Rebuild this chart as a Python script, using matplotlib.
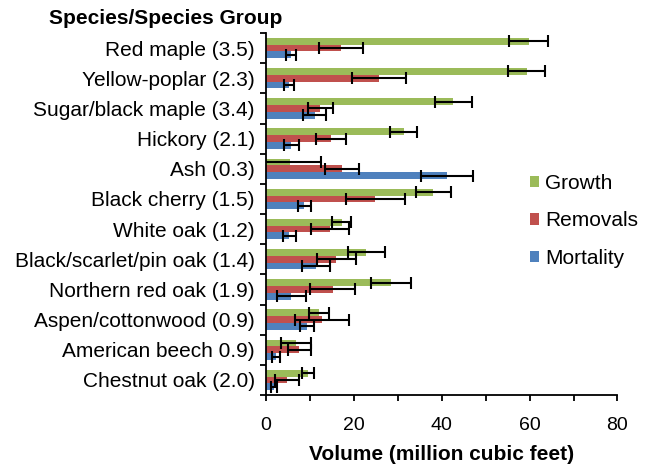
import matplotlib
matplotlib.use("Agg")
import matplotlib.pyplot as plt
import numpy as np

categories = ["Red maple (3.5)", "Yellow-poplar (2.3)", "Sugar/black maple (3.4)",
              "Hickory (2.1)", "Ash (0.3)", "Black cherry (1.5)", "White oak (1.2)",
              "Black/scarlet/pin oak (1.4)", "Northern red oak (1.9)",
              "Aspen/cottonwood (0.9)", "American beech 0.9)", "Chestnut oak (2.0)"]

growth = [59.8, 59.3, 42.6, 31.3, 5.5, 38.1, 17.2, 22.8, 28.5, 12.0, 6.8, 9.6]
growth_err = [4.4, 4.3, 4.2, 3.1, 7.0, 3.9, 2.2, 4.2, 4.6, 2.3, 3.4, 1.4]
removals = [17.1, 25.7, 12.4, 14.8, 17.3, 24.9, 14.6, 16.0, 15.2, 12.7, 7.6, 4.8]
removals_err = [5.0, 6.1, 2.8, 3.5, 3.8, 6.7, 4.4, 4.5, 5.1, 6.2, 2.6, 2.7]
mortality = [5.7, 5.2, 11.1, 5.8, 41.2, 8.7, 5.3, 11.4, 5.8, 9.3, 2.3, 1.9]
mortality_err = [1.2, 1.2, 2.6, 1.6, 5.9, 1.5, 1.45, 3.1, 3.35, 1.6, 1.0, 0.7]

series = [("Growth", growth, growth_err, "#9BBB59"),
          ("Removals", removals, removals_err, "#C0504D"),
          ("Mortality", mortality, mortality_err, "#4F81BD")]

plt.rcParams['font.family'] = ['Liberation Sans', 'DejaVu Sans']

W, H = 653, 468
fig = plt.figure(figsize=(W / 100, H / 100), dpi=100)
ax = fig.add_axes([266 / W, 1 - 395 / H, (617.5 - 266) / W, (395 - 33) / H])

y = np.arange(len(categories))
bh = 0.225
offsets = [-bh, 0, bh]
handles = []
for (name, vals, errs, col), off in zip(series, offsets):
    b = ax.barh(y + off, vals, height=bh, color=col, label=name, zorder=2)
    handles.append(b)
    ax.errorbar(vals, y + off, xerr=errs, fmt='none', ecolor='black',
                elinewidth=1.5, capsize=4, capthick=1.5, zorder=3)

ax.set_xlim(0, 80)
ax.set_ylim(len(categories) - 0.5, -0.5)

for s in ['top', 'right']:
    ax.spines[s].set_visible(False)
for s in ['left', 'bottom']:
    ax.spines[s].set_linewidth(1.3)

ax.set_yticks(y)
ax.set_yticklabels(categories, fontsize=15)
ax.set_yticks(np.arange(-0.5, len(categories), 1), minor=True)
ax.tick_params(axis='y', which='major', length=0, pad=8)
ax.tick_params(axis='y', which='minor', length=4.5, width=1.3, direction='out')

ax.set_xticks(np.arange(0, 81, 20))
ax.set_xticks(np.arange(0, 81, 10), minor=True)
ax.tick_params(axis='x', which='both', length=4, width=1.3, direction='out', labelsize=14, pad=12)

fig.text(49 / W, 1 - 19 / H, "Species/Species Group", fontsize=15, fontweight='bold',
         ha='left', va='center')
fig.text(442 / W, 1 - 455 / H, "Volume (million cubic feet)", fontsize=15,
         fontweight='bold', ha='center', va='center')

fig.legend(handles=handles, labels=[s[0] for s in series], loc='upper left',
           bbox_to_anchor=(511 / W, 1 - 155 / H), frameon=False, fontsize=15,
           handlelength=0.45, handleheight=0.45, handletextpad=0.3, labelspacing=0.9)

fig.savefig("out.png", dpi=100)
